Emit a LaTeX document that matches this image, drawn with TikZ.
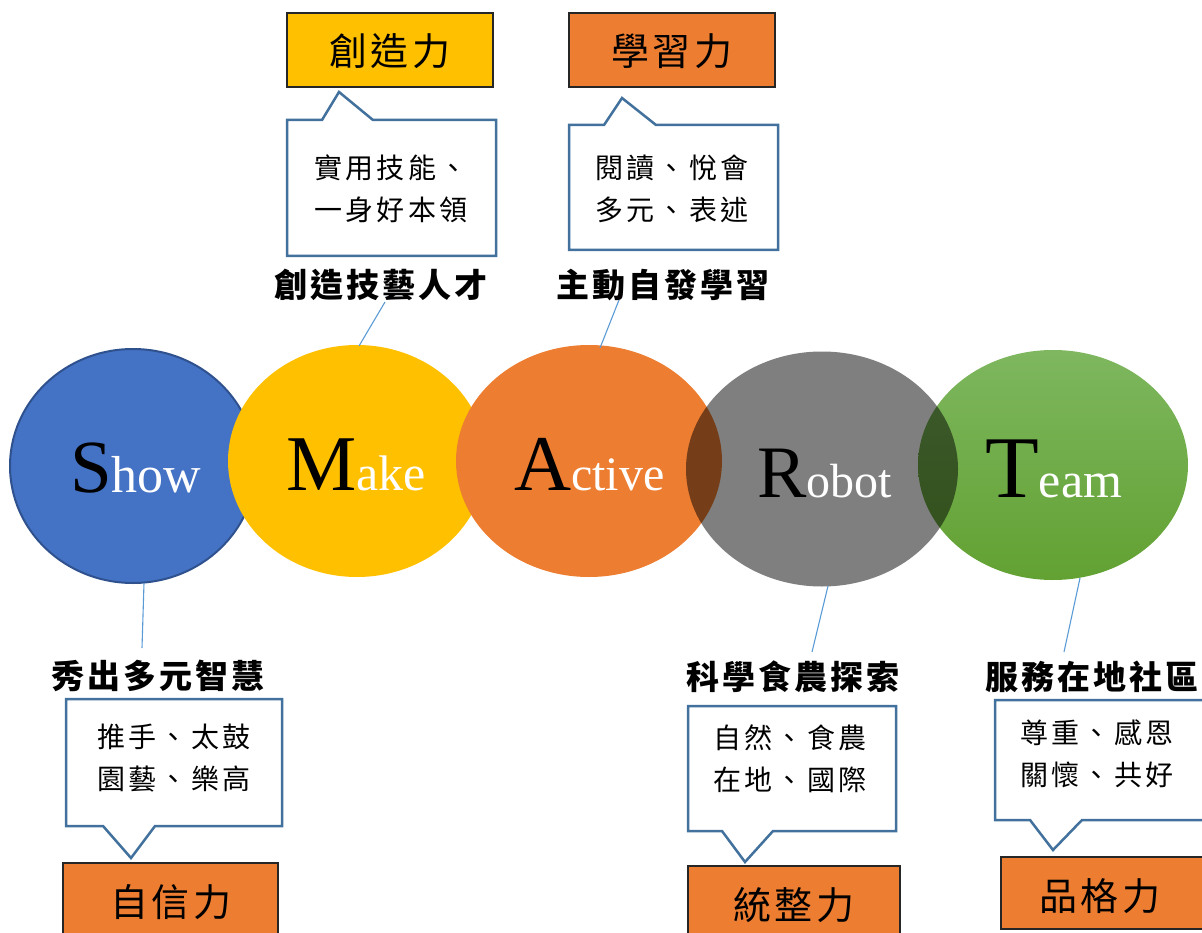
\documentclass[tikz,border=0pt]{standalone}
\usepackage{fontspec}
\setmainfont{Liberation Serif}
\newfontfamily\ttlfont{Noto Sans CJK TC}[LetterSpace=10]
\newfontfamily\lblfont{Noto Sans CJK TC}[LetterSpace=9]
\newfontfamily\cofont{Noto Sans CJK TC}[LetterSpace=12]
\usetikzlibrary{shapes.geometric}
\definecolor{sblue}{HTML}{4472C4}
\definecolor{sblueB}{HTML}{2F528F}
\definecolor{myellow}{HTML}{FFC000}
\definecolor{aorange}{HTML}{ED7D31}
\definecolor{tgreenT}{HTML}{7EB75F}
\definecolor{tgreenB}{HTML}{62A132}
\definecolor{cob}{HTML}{41719C}
\definecolor{conn}{HTML}{5B9BD5}
\definecolor{boxb}{HTML}{262626}
\newcommand{\capL}[1]{\fontsize{#1}{#1}\selectfont}
\newcommand{\lowL}[1]{\fontsize{#1}{#1}\selectfont\color{white}}
\tikzset{
  circ/.style={ellipse, inner sep=0pt, draw=none},
  word/.style={anchor=base west, inner sep=0pt, text=black},
  titlebox/.style={draw=boxb, line width=1.5pt},
  titletext/.style={inner sep=0pt, font=\ttlfont\fontsize{38}{38}\selectfont},
  labeltext/.style={inner sep=0pt, font=\lblfont\bfseries\fontsize{33}{33}\selectfont},
  cotext/.style={inner sep=0pt, align=center, font=\cofont\fontsize{28}{42}\selectfont},
  callout/.style={draw=cob, line width=2.5pt, fill=white, line join=miter},
  connline/.style={draw=conn, line width=1.1pt},
}
\begin{document}
\begin{tikzpicture}[x=1pt,y=-1pt]
\useasboundingbox (0,0) rectangle (1202,933);
% circles
\node[circ, fill=sblue, draw=sblueB, line width=2pt, minimum width=246pt, minimum height=234pt] (show) at (133,466) {};
\node[circ, fill=myellow, minimum width=258pt, minimum height=232pt] (make) at (357,461) {};
\node[circ, fill=aorange, minimum width=266pt, minimum height=232pt] (active) at (589,461) {};
\node[circ, top color=tgreenT, bottom color=tgreenB, minimum width=270pt, minimum height=230pt] (team) at (1053,465) {};
\node[circ, fill=black, fill opacity=0.5, minimum width=272pt, minimum height=235pt] (robot) at (822,469) {};
% circle words
\node[word] (wS) at (70,492) {\capL{75}S\lowL{52}how};
\node[word] (wM) at (286,490) {\capL{79}M\lowL{50}ake};
\node[word] (wA) at (514,490) {\capL{79}A\lowL{48}ctive};
\node[word] (wR) at (757,497) {\capL{74}R\lowL{48}obot};
\node[word] (wT) at (985,497) {\capL{88}T\lowL{50}eam};

% top title boxes
\node[titlebox, fill=myellow, minimum width=206pt, minimum height=74pt, inner sep=0pt] (b1) at (390,50) {};
\node[titletext] (t1) at (390,51) {創造力};
\node[titlebox, fill=aorange, minimum width=206pt, minimum height=74pt, inner sep=0pt] (b2) at (672,50) {};
\node[titletext] (t2) at (672,51) {學習力};

% top callouts
\draw[callout] (287,120) -- (322,120) -- (339,92) -- (373,120) -- (496,120) -- (496,256) -- (287,256) -- cycle;
\node[cotext] (c1) at (391,189) {實用技能、\\一身好本領};
\draw[callout] (569,125) -- (604,125) -- (622,98) -- (656,125) -- (778,125) -- (778,250) -- (569,250) -- cycle;
\node[cotext] (c2) at (672,189) {閱讀、悅會\\多元、表述};

% top labels
\node[labeltext] (l1) at (381,285) {創造技藝人才};
\node[labeltext] (l2) at (663,285) {主動自發學習};
\coordinate (m1) at (359,346);
\coordinate (m2) at (385,302);
\coordinate (a1) at (600,348);
\coordinate (a2) at (619,300);
\draw[connline] (m1) -- (m2);
\draw[connline] (a1) -- (a2);

% bottom lines and labels
\coordinate (s1) at (144,583);
\coordinate (s2) at (142,648);
\coordinate (r1) at (828,586);
\coordinate (r2) at (812,652);
\coordinate (e1) at (1080,578);
\coordinate (e2) at (1064,652);
\draw[connline] (s1) -- (s2);
\draw[connline] (r1) -- (r2);
\draw[connline] (e1) -- (e2);
\node[labeltext] (l3) at (158,676) {秀出多元智慧};
\node[labeltext] (l4) at (793,677) {科學食農探索};
\node[labeltext] (l5) at (1092,677) {服務在地社區};

% bottom callouts
\draw[callout] (66,699) -- (282,699) -- (282,826) -- (155,826) -- (131,858) -- (103,826) -- (66,826) -- cycle;
\node[cotext] (c3) at (174,758) {推手、太鼓\\園藝、樂高};
\draw[callout] (688,706) -- (896,706) -- (896,831) -- (773,831) -- (745,862) -- (722,831) -- (688,831) -- cycle;
\node[cotext] (c4) at (790,759) {自然、食農\\在地、國際};
\draw[callout] (995,700) -- (1210,700) -- (1210,820) -- (1082,820) -- (1053,850) -- (1030,820) -- (995,820) -- cycle;
\node[cotext] (c5) at (1097,754) {尊重、感恩\\關懷、共好};

% bottom title boxes
\draw[titlebox, fill=aorange] (63,863) rectangle (278,945);
\node[titletext] (t3) at (171,902) {自信力};
\draw[titlebox, fill=aorange] (688,866) rectangle (900,945);
\node[titletext] (t4) at (794,905) {統整力};
\draw[titlebox, fill=aorange] (1001,857) rectangle (1210,929);
\node[titletext] (t5) at (1100,896) {品格力};
\end{tikzpicture}
\end{document}
